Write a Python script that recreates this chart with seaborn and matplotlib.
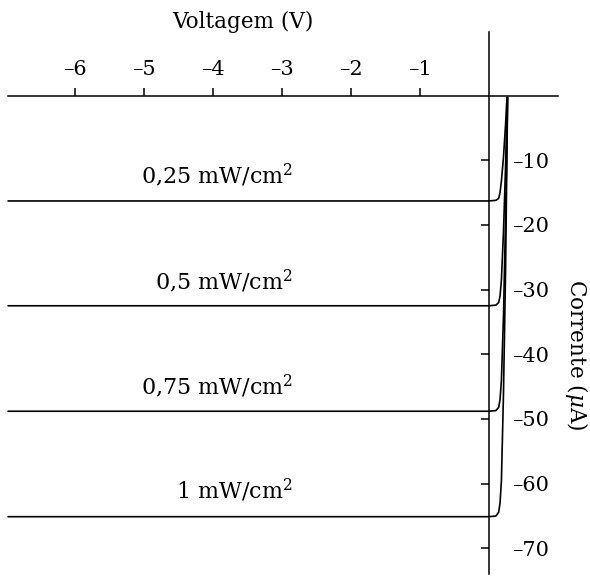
import numpy as np
import pandas as pd
import matplotlib
matplotlib.use("Agg")
import matplotlib.pyplot as plt
import seaborn as sns

# ---- data ----
intensities = ["0,25", "0,5", "0,75", "1"]
v_025 = [-6.97, -1.0, 0.0, 0.10, 0.14, 0.16, 0.18, 0.21, 0.24, 0.26]
i_025 = [-16.3, -16.3, -16.3, -16.2, -15.9, -15.0, -13.2, -9.5, -4.5, -0.3]
v_05 = [-6.97, -1.0, 0.0, 0.10, 0.14, 0.16, 0.18, 0.21, 0.24, 0.265]
i_05 = [-32.5, -32.5, -32.5, -32.4, -32.0, -31.0, -28.5, -21.0, -11.0, -0.3]
v_075 = [-6.97, -1.0, 0.0, 0.10, 0.14, 0.16, 0.18, 0.21, 0.24, 0.27]
i_075 = [-48.8, -48.8, -48.8, -48.7, -48.2, -47.0, -44.0, -34.0, -19.0, -0.3]
v_1 = [-6.97, -1.0, 0.0, 0.10, 0.14, 0.16, 0.18, 0.21, 0.24, 0.27]
i_1 = [-65.1, -65.1, -65.1, -65.0, -64.4, -63.0, -59.5, -46.0, -27.0, -0.3]
x_ticks = [-6, -5, -4, -3, -2, -1]
y_ticks = [-10, -20, -30, -40, -50, -60, -70]
label_y = [-12.3, -28.7, -44.9, -61.1]

df = pd.concat([
    pd.DataFrame({"V": v, "I": i, "P": p})
    for v, i, p in [(v_025, i_025, intensities[0]), (v_05, i_05, intensities[1]),
                    (v_075, i_075, intensities[2]), (v_1, i_1, intensities[3])]
], ignore_index=True)

sns.set_theme(style="white")
plt.rcParams["font.family"] = ["DejaVu Serif"]
plt.rcParams["mathtext.fontset"] = "dejavuserif"
plt.rcParams["text.color"] = "black"
plt.rcParams["axes.labelcolor"] = "black"

fig = plt.figure(figsize=(5.90, 5.77), dpi=100)
ax = fig.add_axes([0, 0, 1, 1])
ax.set_facecolor("white")

sns.lineplot(data=df, x="V", y="I", hue="P", units="P", estimator=None, sort=False,
             palette=["black"] * 4, linewidth=1.2, legend=False, ax=ax)

ax.set_xlim(-489 / 69, 101 / 69)
ax.set_ylim(-(577 - 95.5) / 6.47, 95.5 / 6.47)

for s in ["left", "bottom"]:
    ax.spines[s].set_visible(False)
ax.spines["top"].set_position(("data", 0))
ax.spines["top"].set_bounds(-6.97, 1.0)
ax.spines["right"].set_position(("data", 0))
ax.spines["right"].set_bounds(-74.0, 9.8)
for s in ["top", "right"]:
    ax.spines[s].set_visible(True)
    ax.spines[s].set_color("black")
    ax.spines[s].set_linewidth(1.1)

ax.xaxis.set_ticks_position("top")
ax.set_xticks(x_ticks)
ax.set_xticklabels([f"\u2013{abs(t)}" for t in x_ticks])
ax.tick_params(axis="x", direction="out", length=6, width=1.1, pad=6,
               labelsize=15, colors="black", top=True, bottom=False,
               labeltop=True, labelbottom=False)

ax.yaxis.set_ticks_position("right")
ax.set_yticks(y_ticks)
ax.set_yticklabels([f"\u2013{abs(t)}" for t in y_ticks])
ax.tick_params(axis="y", direction="in", length=6, width=1.1, pad=17,
               labelsize=15, colors="black", right=True, left=False,
               labelright=True, labelleft=False)

ax.set_xlabel("")
ax.set_ylabel("")
ax.text(-3.57, 11.4, "Voltagem (V)", ha="center", va="center", fontsize=15.5)
ax.text(1.275, -40.1, "Corrente ($\\mu$A)", ha="center", va="center",
        rotation=-90, fontsize=15.5)

for p, ly in zip(intensities, label_y):
    ax.text(-2.84, ly, f"{p} mW/cm$^2$", ha="right", va="center", fontsize=16)

fig.savefig("out.png", dpi=100, facecolor="white")
